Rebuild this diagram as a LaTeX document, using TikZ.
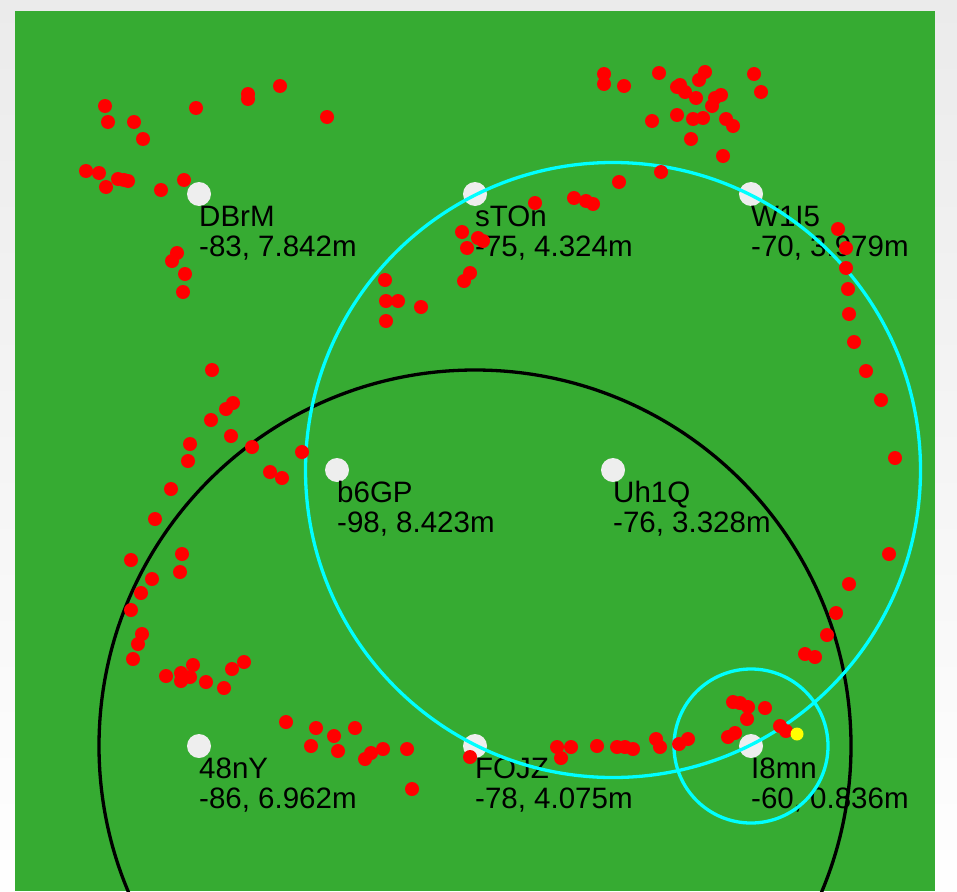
\documentclass[tikz,border=0pt]{standalone}
\usepackage{fontspec}
\setmainfont{Liberation Sans}
\definecolor{grass}{RGB}{54,171,50}
\definecolor{framegray}{RGB}{235,235,235}
\definecolor{beacon}{RGB}{238,238,238}
\definecolor{ringcyan}{RGB}{0,255,255}
\definecolor{hitred}{RGB}{255,0,0}
\definecolor{posyellow}{RGB}{255,255,0}
\tikzset{
  anchordot/.style={circle,fill=beacon,inner sep=0pt,minimum size=24pt},
  tag/.style={anchor=base west,inner sep=0pt,font=\fontsize{29.5}{30}\selectfont},
  hit/.style={fill=hitred},
  rangering/.style={line width=3.3pt}
}
\begin{document}
\begin{tikzpicture}[x=1pt,y=-1pt]
        %sfondo
        \useasboundingbox (0,0) rectangle (957,891);
        \shade[top color=framegray,bottom color=white!97!framegray] (0,0) rectangle (957,891);
        \fill[grass] (15,11) rectangle (935,891);
        %ancore
        \foreach \nm/\x/\y/\val in {DBrM/199/194/{-83, 7.842m},sTOn/475/194/{-75, 4.324m},W1I5/751/194/{-70, 3.979m},b6GP/337/470/{-98, 8.423m},Uh1Q/613/470/{-76, 3.328m},48nY/199/746/{-86, 6.962m},FOJZ/475/746/{-78, 4.075m},I8mn/751/746/{-60, 0.836m}}{
            \node[anchordot] (\nm) at (\x,\y) {};
            \node[tag] (\nm-name) at (\x,\y+32) {\nm};
            \node[tag] (\nm-val) at (\x,\y+62) {\val};
        }
        %cerchi
        \draw[rangering,black] (FOJZ) circle (376);
        \draw[rangering,ringcyan] (Uh1Q) circle (307.5);
        \draw[rangering,ringcyan] (I8mn) circle (77);
        %misure
        \foreach \p in {(105,106),(108,122),(134,122),(143,139),(196,108),(248,94),(248,99),(280,86),(327,117),
            (86,171),(99,173),(106,187),(118,179),(124,180),(128,181),(161,190),(184,180),
            (177,253),(172,261),(185,274),(183,292),
            (604,74),(604,84),(624,86),(659,73),(705,72),(699,80),(680,85),(685,92),(677,87),(696,98),
            (721,95),(715,98),(712,106),(754,74),(761,92),(652,121),(677,115),(693,119),(703,118),
            (726,119),(733,126),(691,139),(723,156),(661,172),(619,182),(574,198),(586,201),(593,204),(535,203),
            (462,232),(478,238),(483,241),(467,248),(470,273),(464,281),
            (385,280),(386,301),(398,301),(421,307),(386,321),
            (838,229),(846,248),(846,268),(848,289),(849,314),(854,342),(866,371),(881,400),(895,458),
            (889,554),(849,584),(836,613),(827,635),(805,654),(815,657),
            (212,370),(233,403),(226,409),(211,420),(231,436),(190,444),(188,461),(252,447),(302,452),
            (270,472),(282,478),(171,489),(155,519),(131,560),(182,554),(180,572),(152,579),(141,593),
            (131,610),(142,634),(138,644),(133,659),(166,676),(181,673),(181,681),(190,677),(193,665),
            (206,682),(224,688),(232,669),(244,662),
            (286,722),(316,728),(334,736),(355,728),(311,746),(338,751),(365,759),(371,753),(383,749),
            (407,749),(412,789),(470,757),
            (557,747),(561,758),(571,747),(597,746),(617,747),(625,747),(633,749),(656,739),(660,747),
            (679,744),(688,739),(733,702),(740,703),(748,707),(747,719),(765,708),(728,737),(735,733),
            (780,726),(786,731)}
            \fill[hit] \p circle (7);
        %posizione stimata
        \fill[posyellow] (797,734) circle (6.5);
\end{tikzpicture}
\end{document}
